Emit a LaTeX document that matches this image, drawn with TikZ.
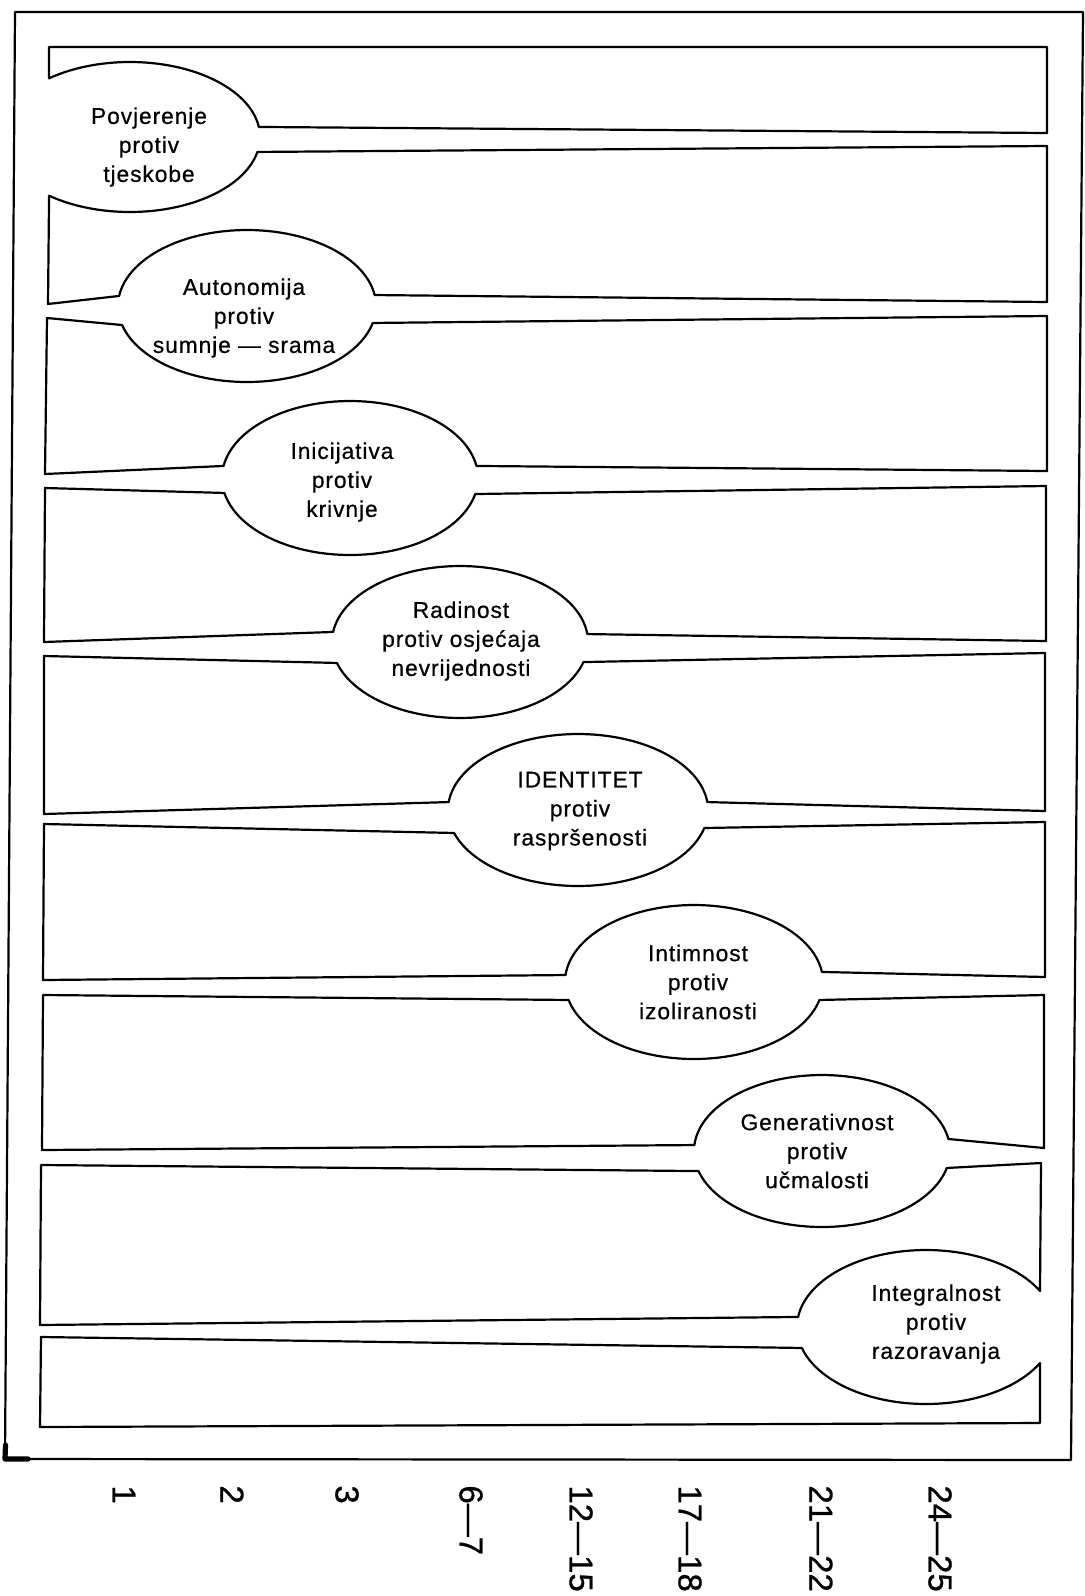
\documentclass[tikz,border=0pt]{standalone}
\usepackage{fontspec}
\setmainfont{Liberation Sans}
\newfontfamily\spaced{Liberation Sans}[LetterSpace=4,FakeBold=0.6]
\newfontfamily\agefont{Liberation Sans}[FakeBold=0.8]
\begin{document}
\begin{tikzpicture}[x=0.5pt,y=-0.5pt,line join=round,line cap=round,
  wall/.style={line width=1.1pt},
  frame/.style={line width=1.1pt},
  every plot/.style={samples=60},
  lab/.style={font=\spaced\fontsize{11.4}{14.5}\selectfont, align=center, inner sep=0pt},
  age/.style={font=\agefont\fontsize{16.5}{18}\selectfont, rotate=-90, anchor=west, inner sep=0pt}]
\useasboundingbox (0,0) rectangle (1084,1596);

% outer frame
\draw[frame] (1083,12) -- (1071,1460) -- (5,1459) -- (15,12) -- (1083,12);
\draw[line width=2.6pt] (5.5,1445) -- (5,1459) -- (28,1459);

% strip 0
\draw[wall] plot[domain=231.5:352.3] ({130+130*cos(\x)},{137+75*sin(\x)})
  -- (1047,133) -- (1047,47) -- (49,47) -- cycle;
% strip 1
\draw[wall] plot[domain=11.5:128.5] ({130+130*cos(\x)},{137+75*sin(\x)})
  -- (48,304) -- plot[domain=187.6:351.7] ({247+129*cos(\x)},{306+76*sin(\x)})
  -- (1047,302) -- (1047,146) -- cycle;
% strip 2
\draw[wall] plot[domain=12.9:165.5] ({247+129*cos(\x)},{306+76*sin(\x)})
  -- (47,318) -- (45,474) -- plot[domain=189:351] ({350+128*cos(\x)},{478+77*sin(\x)})
  -- (1047,471) -- (1047,316) -- cycle;
% strip 3
\draw[wall] plot[domain=12:168.8] ({350+128*cos(\x)},{478+77*sin(\x)})
  -- (45,488) -- (44,642) -- plot[domain=187.6:354] ({460+128*cos(\x)},{642+76*sin(\x)})
  -- (1046,641) -- (1046,486) -- cycle;
% strip 4
\draw[wall] plot[domain=15.3:164] ({460+128*cos(\x)},{642+76*sin(\x)})
  -- (44,656) -- (44,814) -- plot[domain=186:354] ({578+130*cos(\x)},{810+76*sin(\x)})
  -- (1045,811) -- (1045,653) -- cycle;
% strip 5
\draw[wall] plot[domain=13.7:162.4] ({578+130*cos(\x)},{810+76*sin(\x)})
  -- (44,824) -- (43,980) -- plot[domain=185.2:352.5] ({694+129*cos(\x)},{982+77*sin(\x)})
  -- (1045,977) -- (1045,822) -- cycle;
% strip 6
\draw[wall] plot[domain=13.5:166.5] ({694+129*cos(\x)},{982+77*sin(\x)})
  -- (43,995) -- (42,1150) -- plot[domain=184.5:350.9] ({822+128*cos(\x)},{1151+76*sin(\x)})
  -- (1044,1148) -- (1044,995) -- cycle;
% strip 7
\draw[wall] plot[domain=12.9:164.7] ({822+128*cos(\x)},{1151+76*sin(\x)})
  -- (41,1165) -- (40,1325) -- plot[domain=187.5:332.1] ({926+129*cos(\x)},{1327+77*sin(\x)})
  -- (1041,1163) -- cycle;
% strip 8
\draw[wall] plot[domain=27.9:164.2] ({926+129*cos(\x)},{1327+77*sin(\x)})
  -- (41,1337) -- (40,1427) -- (1040,1423) -- cycle;

% stage texts
\node[lab] (t1) at (149,147) {Povjerenje\\protiv\\tjeskobe};
\node[lab] (t2) at (244,318) {Autonomija\\protiv\\sumnje — srama};
\node[lab] (t3) at (342,482) {Inicijativa\\protiv\\krivnje};
\node[lab] (t4) at (461,641) {Radinost\\protiv osjećaja\\nevrijednosti};
\node[lab] (t5) at (580,811) {IDENTITET\\protiv\\raspršenosti};
\node[lab] (t6) at (698,982) {Intimnost\\protiv\\izoliranosti};
\node[lab] (t7) at (817,1151) {Generativnost\\protiv\\učmalosti};
\node[lab] (t8) at (936,1324) {Integralnost\\protiv\\razoravanja};

% ages
\node[age] (a1) at (124,1485) {1};
\node[age] (a2) at (232,1485) {2};
\node[age] (a3) at (347,1485) {3};
\node[age] (a4) at (471,1485) {6—7};
\node[age] (a5) at (581,1485) {12—15};
\node[age] (a6) at (690,1485) {17—18};
\node[age] (a7) at (821,1485) {21—22};
\node[age] (a8) at (940,1485) {24—25};
\end{tikzpicture}
\end{document}
